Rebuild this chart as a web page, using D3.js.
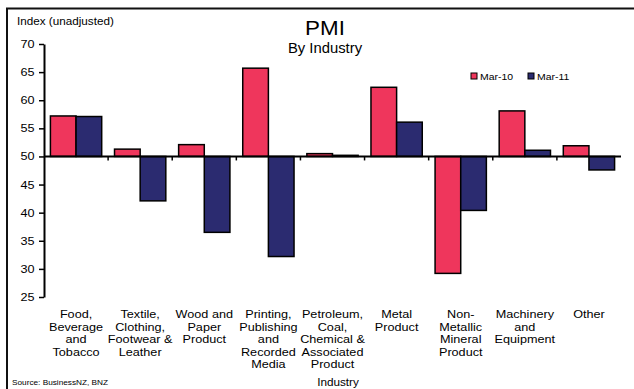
<!DOCTYPE html>
<html>
<head>
<meta charset="utf-8">
<script src="https://cdn.jsdelivr.net/npm/d3@7"></script>
<style>
  html, body { margin: 0; padding: 0; background: #fff; }
  svg { display: block; font-family: "Liberation Sans", Arial, sans-serif; }
</style>
</head>
<body>
<svg id="chart" width="634" height="389"></svg>
<script>
// PMI by industry, Mar-10 vs Mar-11 (index, unadjusted; 50 = no change)
const categories = [
  ["Food,", "Beverage", "and", "Tobacco"],
  ["Textile,", "Clothing,", "Footwear &", "Leather"],
  ["Wood and", "Paper", "Product"],
  ["Printing,", "Publishing", "and", "Recorded", "Media"],
  ["Petroleum,", "Coal,", "Chemical &", "Associated", "Product"],
  ["Metal", "Product"],
  ["Non-", "Metallic", "Mineral", "Product"],
  ["Machinery", "and", "Equipment"],
  ["Other"]
];
const seriesNames = ["Mar-10", "Mar-11"];
const mar10 = [57.2, 51.3, 52.1, 65.7, 50.5, 62.3, 29.2, 58.1, 51.9];
const mar11 = [57.1, 42.1, 36.5, 32.2, 50.2, 56.1, 40.4, 51.1, 47.6];
const yTicks = [25, 30, 35, 40, 45, 50, 55, 60, 65, 70];
const colors = ["#EF365C", "#2B2B70"];

const svg = d3.select("#chart");
const baseline = 50;
const SX = 1.15; // horizontal stretch of the lettering

// text placed at (x, y), slightly widened
function label(parent, x, y, str, size, anchor = "start", sx = SX) {
  const g = parent.append("g").attr("transform", `translate(${x},${y}) scale(${sx},1)`);
  return g.append("text")
    .attr("text-anchor", anchor)
    .attr("font-size", size)
    .attr("fill", "#000")
    .text(str);
}

const plot = { left: 44, right: 621, top: 44, bottom: 297 };

// equal-width slots, two bars per slot
const slot = (plot.right - plot.left) / categories.length;
const groupW = slot * 0.8;
const xs = d3.scaleBand().domain(d3.range(seriesNames.length)).range([0, groupW]);
const slotX = i => plot.left + slot * i + (slot - groupW) / 2;

const y = d3.scaleLinear().domain([25, 70]).range([plot.bottom, plot.top]);

// outer frame
svg.append("path")
  .attr("d", `M7,389 V8.5 H634`)
  .attr("fill", "none")
  .attr("stroke", "#111")
  .attr("stroke-width", 2);

// titles
label(svg, 325, 35, "PMI", 20, "middle", 1.12);
label(svg, 325, 53, "By Industry", 14, "middle", 1.06);
label(svg, 17, 25, "Index (unadjusted)", 10, "start", 1.17);

// y axis
const yAxis = d3.axisLeft(y).tickValues(yTicks).tickSize(5).tickSizeOuter(0).tickPadding(4);
const yg = svg.append("g").attr("transform", `translate(${plot.left},0)`).call(yAxis);
yg.select(".domain").attr("stroke", "#000").attr("stroke-width", 2);
yg.selectAll(".tick line").attr("stroke", "#000").attr("stroke-width", 1.5);
yg.selectAll(".tick text")
  .attr("font-size", 11)
  .attr("fill", "#000")
  .attr("font-family", "Liberation Sans, Arial, sans-serif")
  .attr("x", -9.5 / SX)
  .attr("transform", `scale(${SX},1)`);

// bars
const data = [mar10, mar11];
categories.forEach((c, i) => {
  data.forEach((vals, s) => {
    const v = vals[i];
    svg.append("rect")
      .attr("x", slotX(i) + xs(s))
      .attr("width", xs.bandwidth())
      .attr("y", y(Math.max(v, baseline)))
      .attr("height", Math.abs(y(v) - y(baseline)))
      .attr("fill", colors[s])
      .attr("stroke", "#000")
      .attr("stroke-width", 1.5);
  });
});

// baseline at 50 with category dividers
const xAxisG = svg.append("g").attr("transform", `translate(0,${y(baseline)})`);
xAxisG.append("line")
  .attr("x1", plot.left).attr("x2", plot.right)
  .attr("stroke", "#000").attr("stroke-width", 2);
d3.range(1, categories.length).forEach(i => {
  const bx = plot.left + slot * i;
  xAxisG.append("line").attr("x1", bx).attr("x2", bx).attr("y1", 0).attr("y2", 4)
    .attr("stroke", "#000").attr("stroke-width", 1.5);
});

// category labels
categories.forEach((lines, i) => {
  lines.forEach((ln, k) => {
    label(svg, slotX(i) + groupW / 2, 318 + k * 12.6, ln, 11, "middle");
  });
});

label(svg, 338, 386, "Industry", 10.5, "middle", 1.12);
label(svg, 12, 385, "Source: BusinessNZ, BNZ", 8, "start", 1.03);

// legend
const legend = svg.append("g").attr("transform", "translate(471,71)");
seriesNames.forEach((n, s) => {
  const g = legend.append("g").attr("transform", `translate(${s * 57},0)`);
  g.append("rect").attr("x", 0).attr("y", 2).attr("width", 6).attr("height", 6)
    .attr("fill", colors[s]).attr("stroke", "#000").attr("stroke-width", 1);
  label(g, 9, 9, n, 9.5, "start", 1.1);
});
</script>
</body>
</html>
